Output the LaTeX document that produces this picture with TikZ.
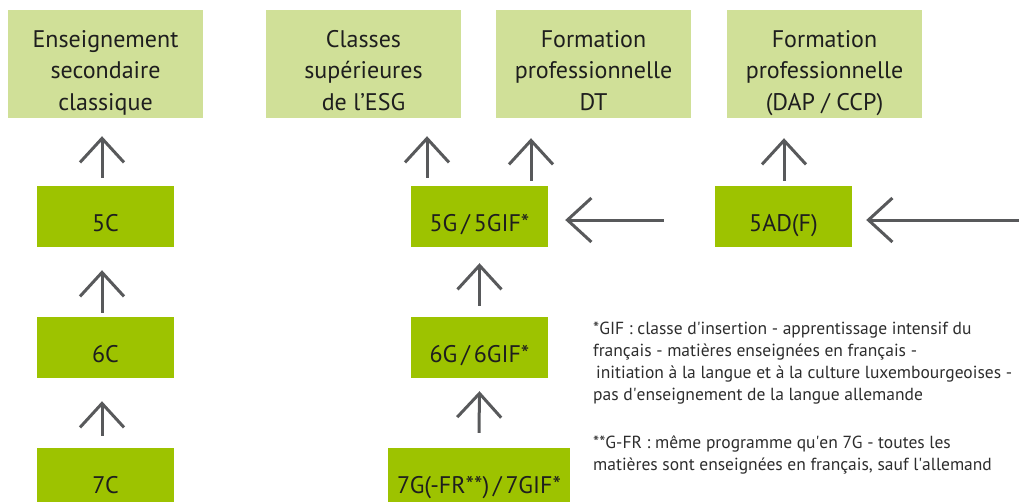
\documentclass[tikz,border=0pt]{standalone}
\usepackage{fontspec}
\setmainfont{PT Sans}
\usetikzlibrary{arrows.meta}
\definecolor{lightg}{RGB}{208,224,152}
\definecolor{darkg}{RGB}{157,195,0}
\definecolor{arrg}{RGB}{88,89,91}
\definecolor{txt}{RGB}{30,30,30}
\definecolor{notetxt}{RGB}{45,45,45}
\newcommand{\threelines}[1]{\begin{tabular}[b]{@{}c@{}}#1\end{tabular}}
\newcommand{\notelines}[1]{\begin{tabular}[t]{@{}l@{}}#1\end{tabular}}
\newcommand{\apo}{\textquotesingle}
\tikzset{
  topbox/.style={fill=lightg, minimum width=195pt, minimum height=108pt, inner sep=0pt, text=txt, font=\fontsize{24}{31.5}\selectfont, text height=92pt, text depth=0pt},
  classbox/.style={fill=darkg, minimum width=137pt, minimum height=61pt, inner sep=0pt, text=txt, font=\fontsize{24}{28}\selectfont, text height=29pt, text depth=0pt},
  arr/.style={draw=arrg, line width=3pt, -{Straight Barb[length=24pt,width=44pt,line width=3pt]}},
  note/.style={anchor=base west, inner sep=0pt, text=notetxt, font=\fontsize{17.5}{22.3}\selectfont}
}
\begin{document}
\begin{tikzpicture}[x=1pt,y=-1pt]
\useasboundingbox (0,0) rectangle (1019,501);
\begin{scope}
\clip (0,0) rectangle (1019,501);
\node[topbox] (top1) at (105.5,64) {\threelines{Enseignement\\secondaire\\classique}};
\node[topbox] (top2) at (363.5,64) {\threelines{Classes\\supérieures\\de l’ESG}};
\node[topbox] (top3) at (593.5,64) {\threelines{Formation\\professionnelle\\DT}};
\node[topbox] (top4) at (824.5,64) {\threelines{Formation\\professionnelle\\(DAP / CCP)}};
\node[classbox] (c5) at (105.5,216.5) {5C};
\node[classbox] (c6) at (105.5,347.5) {6C};
\node[classbox] (c7) at (105.5,478.5) {7C};
\node[classbox] (g5) at (479.5,216.5) {5G\,/\,5GIF*};
\node[classbox] (g6) at (479.5,347.5) {6G\,/\,6GIF*};
\node[classbox, minimum width=182pt] (g7) at (479,478.5) {7G(-FR**)\,/\,7GIF*};
\node[classbox] (ad5) at (783.5,216.5) {5AD(F)};
\coordinate (rightin) at (1019,220);
\end{scope}
\draw[arr] ([xshift=-3.5pt,yshift=8pt]c5.north) -- ([xshift=-3.5pt,yshift=-18pt]top1.south);
\draw[arr] ([xshift=-3.5pt,yshift=4pt]c6.north) -- ([xshift=-3.5pt,yshift=-23pt]c5.south);
\draw[arr] ([xshift=-3.5pt,yshift=12pt]c7.north) -- ([xshift=-3.5pt,yshift=-23pt]c6.south);
\draw[arr] ([xshift=-52.5pt,yshift=8pt]g5.north) -- ([xshift=63.5pt,yshift=-18pt]top2.south);
\draw[arr] ([xshift=51.5pt,yshift=5pt]g5.north) -- ([xshift=-62.5pt,yshift=-20pt]top3.south);
\draw[arr] ([yshift=11pt]g6.north) -- ([yshift=-16pt]g5.south);
\draw[arr] ([yshift=15pt]g7.north) -- ([yshift=-13pt]g6.south);
\draw[arr] ([xshift=0.5pt,yshift=5pt]ad5.north) -- ([xshift=-40.5pt,yshift=-20pt]top4.south);
\draw[arr] ([xshift=-51pt,yshift=-3.5pt]ad5.west) -- ([xshift=17pt,yshift=-3.5pt]g5.east);
\draw[arr] (rightin) -- ([xshift=14pt,yshift=-3.5pt]ad5.east);
\node[note] (n1) at (593,334) {\notelines{*GIF : classe d\apo{}insertion - apprentissage intensif du\\français - matières enseignées en français -\\\hspace{3pt}initiation à la langue et à la culture luxembourgeoises -\\pas d\apo{}enseignement de la langue allemande}};
\node[note] (n2) at (593,448) {\notelines{**G-FR : même programme qu\apo{}en 7G - toutes les\\matières sont enseignées en français, sauf l\apo{}allemand}};
\end{tikzpicture}
\end{document}
